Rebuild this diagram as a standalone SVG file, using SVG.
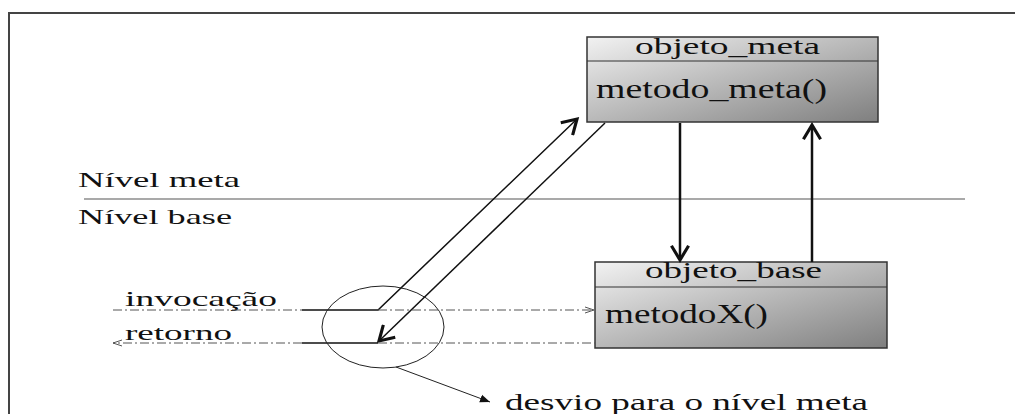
<svg xmlns="http://www.w3.org/2000/svg" width="1015" height="414" viewBox="0 0 1015 414">
<defs>
<style>
text{font-family:"Liberation Serif","Times New Roman","DejaVu Serif",serif;fill:#111;}
.box{stroke:#333;stroke-width:1.5;}
.thick{stroke:#111;stroke-width:2.5;fill:none;}
.thin{stroke:#111;stroke-width:1.5;fill:none;}
.dd{stroke:#555;stroke-width:1;stroke-dasharray:9,3,2,3;fill:none;}
</style>
<linearGradient id="g" x1="0" y1="0" x2="1" y2="1">
<stop offset="0" stop-color="#f2f2f2"/>
<stop offset="1" stop-color="#7f7f7f"/>
</linearGradient>
<marker id="open" markerUnits="userSpaceOnUse" markerWidth="20" markerHeight="20" refX="12" refY="7" orient="auto" viewBox="0 0 14 14">
<path d="M2,1 L12,7 L2,13" fill="none" stroke="#111" stroke-width="2.2"/>
</marker>
<marker id="openG" markerUnits="userSpaceOnUse" markerWidth="12" markerHeight="12" refX="10" refY="4" orient="auto" viewBox="0 0 12 8">
<path d="M1,1 L10,4 L1,7" fill="none" stroke="#555" stroke-width="1"/>
</marker>
<marker id="fill" markerUnits="userSpaceOnUse" markerWidth="12" markerHeight="10" refX="10" refY="4" orient="auto" viewBox="0 0 12 8">
<path d="M0,0 L10,4 L0,8 Z" fill="#111"/>
</marker>
</defs>
<rect width="1015" height="414" fill="#fff"/>
<g id="frame">
<path d="M9,414 V13 H1015" fill="none" stroke="#444" stroke-width="2"/>
</g>
<g id="levels">
<line x1="84" y1="199" x2="965" y2="199" stroke="#8c8c8c" stroke-width="1.5"/>
<text x="78" y="187" font-size="21" textLength="162" lengthAdjust="spacingAndGlyphs">Nível meta</text>
<text x="78" y="224" font-size="21" textLength="154" lengthAdjust="spacingAndGlyphs">Nível base</text>
</g>
<g id="objeto_meta">
<rect class="box" x="587" y="37" width="291" height="85" fill="url(#g)"/>
<line x1="587" y1="61" x2="878" y2="61" stroke="#333" stroke-width="1.2"/>
<text x="635" y="54" font-size="23" textLength="185" lengthAdjust="spacingAndGlyphs">objeto_meta</text>
<text x="596" y="98" font-size="28" textLength="231" lengthAdjust="spacingAndGlyphs">metodo_meta()</text>
</g>
<g id="objeto_base">
<rect class="box" x="595" y="262" width="292" height="86" fill="url(#g)"/>
<line x1="595" y1="287" x2="887" y2="287" stroke="#333" stroke-width="1.2"/>
<text x="645" y="278" font-size="23" textLength="177" lengthAdjust="spacingAndGlyphs">objeto_base</text>
<text x="605" y="323" font-size="28" textLength="163" lengthAdjust="spacingAndGlyphs">metodoX()</text>
</g>
<g id="labels">
<text x="125" y="306" font-size="22" textLength="152" lengthAdjust="spacingAndGlyphs">invocação</text>
<text x="125" y="340" font-size="22" textLength="107" lengthAdjust="spacingAndGlyphs">retorno</text>
<text x="505" y="410" font-size="24" textLength="363" lengthAdjust="spacingAndGlyphs">desvio para o nível meta</text>
</g>
<g id="connectors">
<line class="thick" x1="680" y1="123" x2="680" y2="260" marker-end="url(#open)"/>
<line class="thick" x1="812" y1="262" x2="812" y2="125" marker-end="url(#open)"/>
<polyline class="thin" points="302,310 378,310 577,119" marker-end="url(#open)"/>
<line class="thin" x1="302" y1="343" x2="378" y2="343"/>
<line class="thin" x1="605" y1="123" x2="379" y2="341" marker-end="url(#open)"/>
<line class="dd" x1="113" y1="310" x2="302" y2="310"/>
<line class="dd" x1="378" y1="310" x2="594" y2="310" marker-end="url(#openG)"/>
<line class="dd" x1="302" y1="343" x2="113" y2="343" marker-end="url(#openG)"/>
<line class="dd" x1="378" y1="343" x2="595" y2="343"/>
<ellipse cx="383" cy="327" rx="61" ry="41" fill="none" stroke="#222" stroke-width="1"/>
<line x1="396" y1="367" x2="490" y2="402" stroke="#222" stroke-width="1" marker-end="url(#fill)"/>
</g>
</svg>
